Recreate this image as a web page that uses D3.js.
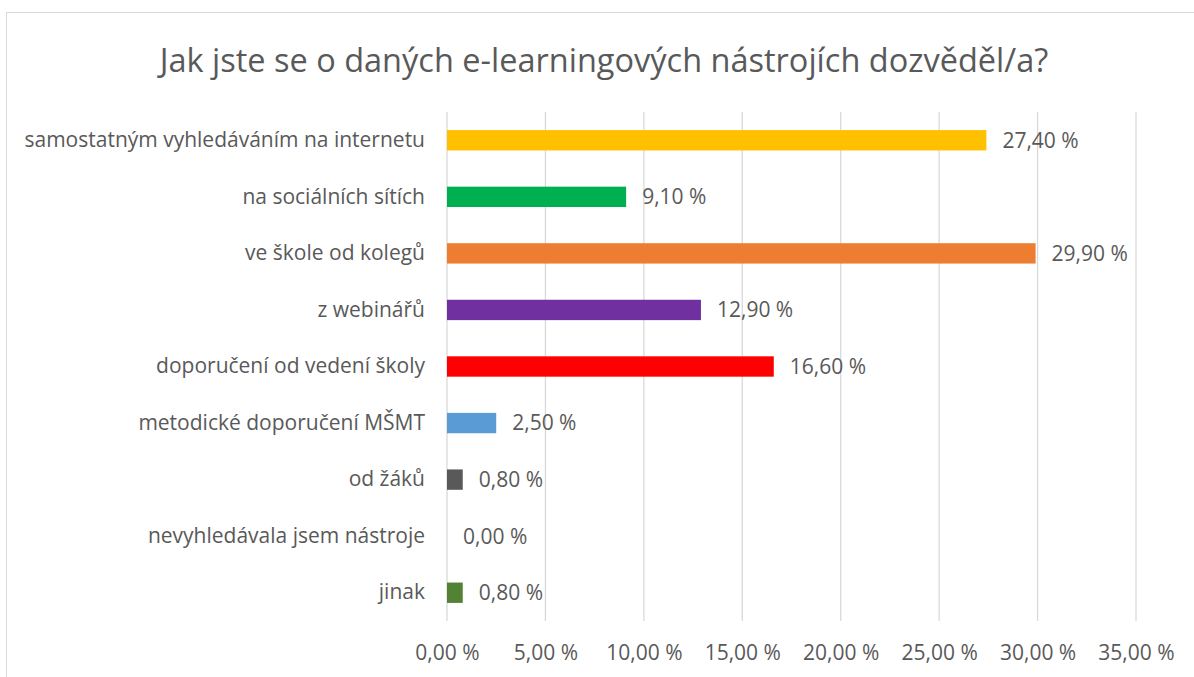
<!DOCTYPE html>
<html>
<head>
<meta charset="utf-8">
<script src="https://cdn.jsdelivr.net/npm/d3@7"></script>
<style>
  body { margin: 0; background: #fff; }
  text { font-family: "Open Sans", Lato, sans-serif; fill: #595959; }
</style>
</head>
<body>
<div id="main"></div>
<script>
// chart data
const categories = [
    'samostatným vyhledáváním na internetu',
    'na sociálních sítích',
    've škole od kolegů',
    'z webinářů',
    'doporučení od vedení školy',
    'metodické doporučení MŠMT',
    'od žáků',
    'nevyhledávala jsem nástroje',
    'jinak'
];
const values = [27.4, 9.1, 29.9, 12.9, 16.6, 2.5, 0.8, 0.0, 0.8];
const barColors = ['#FFC000', '#00B050', '#ED7D31', '#7030A0', '#FF0000', '#5B9BD5', '#595959', '#A5A5A5', '#548235'];
const xTicks = [0, 5, 10, 15, 20, 25, 30, 35];
const title = 'Jak jste se o daných e-learningových nástrojích dozvěděl/a?';

const width = 1194, height = 677;
const margin = { top: 112, right: 58, bottom: 56, left: 447 };
const chartWidth = 1136 - margin.left;
const chartHeight = 621 - margin.top;

const fmt = v => v.toFixed(2).replace('.', ',') + ' %';

const svg = d3.select('#main')
    .append('svg')
    .attr('width', width)
    .attr('height', height);

// outer frame
svg.append('rect')
    .attr('x', 6.5).attr('y', 12.5)
    .attr('width', width).attr('height', height)
    .attr('fill', 'none')
    .attr('stroke', '#d9d9d9');

svg.append('text')
    .attr('x', 604).attr('y', 72)
    .attr('text-anchor', 'middle')
    .style('font-size', '32.5px')
    .text(title);

const xScale = d3.scaleLinear()
    .domain([0, 35])
    .range([0, chartWidth]);

const yScale = d3.scaleBand()
    .domain(categories)
    .range([0, chartHeight])
    .paddingInner(0.64)
    .paddingOuter(0.32);

const g = svg.append('g')
    .attr('transform', `translate(${margin.left}, ${margin.top})`);

// gridlines
g.selectAll('line.grid')
    .data(xTicks)
    .enter()
    .append('line')
    .attr('class', 'grid')
    .attr('x1', d => xScale(d)).attr('x2', d => xScale(d))
    .attr('y1', 0).attr('y2', chartHeight)
    .attr('stroke', '#d9d9d9')
    .attr('stroke-width', 1.3);

// x axis labels
const xAxis = g.append('g')
    .attr('transform', `translate(0, ${chartHeight})`)
    .call(d3.axisBottom(xScale).tickValues(xTicks).tickFormat(fmt).tickSize(0).tickPadding(24));
xAxis.select('.domain').remove();
xAxis.selectAll('text').style('font-size', '21px').attr('fill', '#595959');

// y axis labels
const yAxis = g.append('g')
    .call(d3.axisLeft(yScale).tickSize(0).tickPadding(22));
yAxis.select('.domain').remove();
yAxis.selectAll('text').style('font-size', '21px').attr('fill', '#595959');

// bars
g.selectAll('rect.bar')
    .data(values)
    .enter()
    .append('rect')
    .attr('class', 'bar')
    .attr('x', 0)
    .attr('y', (d, i) => yScale(categories[i]))
    .attr('width', d => xScale(d))
    .attr('height', yScale.bandwidth())
    .attr('fill', (d, i) => barColors[i]);

// value labels
g.selectAll('text.val')
    .data(values)
    .enter()
    .append('text')
    .attr('class', 'val')
    .attr('x', d => xScale(d) + 16)
    .attr('y', (d, i) => yScale(categories[i]) + yScale.bandwidth() / 2)
    .attr('dy', '0.35em')
    .style('font-size', '21px')
    .text(d => fmt(d));
</script>
</body>
</html>
